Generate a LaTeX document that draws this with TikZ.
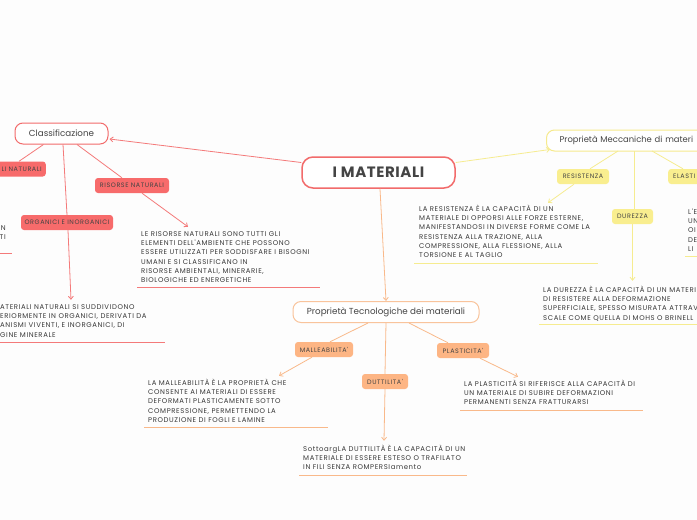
\documentclass[tikz,border=0pt]{standalone}
\usepackage{fontspec}
\setmainfont{Poppins}
\newfontfamily\bodyfam[LetterSpace=9]{Poppins}
\newfontfamily\rootfam[LetterSpace=4]{Poppins}
\usetikzlibrary{arrows.meta}
\definecolor{bgc}{HTML}{FDFDFD}
\definecolor{redb}{HTML}{F26B6B}
\definecolor{redf}{HTML}{F76B6B}
\definecolor{redl}{HTML}{F47A7A}
\definecolor{orb}{HTML}{F9C49C}
\definecolor{orf}{HTML}{FDB584}
\definecolor{orl}{HTML}{F9B98A}
\definecolor{yeb}{HTML}{F6EA8E}
\definecolor{yef}{HTML}{F9EE8F}
\definecolor{yel}{HTML}{F6EC90}
\definecolor{titc}{HTML}{444444}
\definecolor{txtc}{HTML}{383838}
\newcommand{\bodyf}{\bodyfam\fontsize{6.9}{9.2}\selectfont}
\newcommand{\fl}{\rule{0pt}{6.4pt}}
\begin{document}
\begin{tikzpicture}[x=1pt,y=-1pt,
  rootbox/.style={draw=redb,line width=1.5pt,rounded corners=11pt,fill=white,
    minimum width=153pt,minimum height=31pt,inner sep=0pt,
    font=\rootfam\bfseries\fontsize{15}{18}\selectfont,text=titc},
  topic/.style={draw=#1,line width=1pt,rounded corners=8pt,fill=white,
    minimum height=21pt,inner sep=0pt,font=\fontsize{8.75}{11}\selectfont,text=titc},
  sub/.style={fill=#1,rounded corners=3pt,minimum height=15pt,inner sep=0pt,
    font=\bodyfam\fontsize{6.4}{7}\selectfont,text=titc},
  tblock/.style={anchor=north west,inner sep=0pt,align=left,font=\bodyf,text=txtc},
  conn/.style={draw=#1,line width=0.8pt},
  arr/.style={draw=#1,line width=0.8pt,-{Straight Barb[length=3pt,width=5pt]}},
  uline/.style={draw=#1,line width=0.8pt}
]
\useasboundingbox (0,0) rectangle (697,520);
\fill[bgc] (0,0) rectangle (697,520);
\clip (0,0) rectangle (697,520);

% main nodes
\node[rootbox] (root) at (378.5,172.5) {I MATERIALI};
\node[topic=redb,minimum width=93pt] (cls) at (61.5,133.5) {Classificazione};
\node[topic=orb,minimum width=186pt] (tec) at (386,312) {Proprietà Tecnologiche dei materiali};
\node[topic=yeb,anchor=west,text width=200pt,align=left,inner xsep=13pt,font=\fontsize{8.4}{11}\selectfont] (mec) at (546,140.5) {Proprietà Meccaniche di materi};

% sub boxes
\node[sub=redf,anchor=east,text width=70pt,align=right,inner xsep=4pt] (nat) at (46,169) {LI NATURALI};
\node[sub=redf,minimum width=74pt] (ris) at (132,185.5) {RISORSE NATURALI};
\node[sub=redf,minimum width=92pt] (org) at (67,222.5) {ORGANICI E INORGANICI};
\node[sub=orf,minimum width=58pt] (mal) at (324,349.5) {MALLEABILITA'};
\node[sub=orf,minimum width=46pt] (dut) at (385,381.5) {DUTTILITA'};
\node[sub=orf,minimum width=52pt] (pla) at (463,350.5) {PLASTICITA'};
\node[sub=yef,minimum width=52pt] (res) at (583,176.5) {RESISTENZA};
\node[sub=yef,minimum width=41pt] (dur) at (632.5,216.5) {DUREZZA};
\node[sub=yef,anchor=west,text width=40pt,align=left,inner xsep=5pt] (ela) at (668,176.5) {ELASTI};

% text blocks
\node[tblock] (rist) at (141,229.8) {\fl LE RISORSE NATURALI SONO TUTTI GLI\\ELEMENTI DELL'AMBIENTE CHE POSSONO\\ESSERE UTILIZZATI PER SODDISFARE I BISOGNI\\UMANI E SI CLASSIFICANO IN\\RISORSE AMBIENTALI, MINERARIE,\\BIOLOGICHE ED ENERGETICHE};
\node[tblock] (natt) at (0,302.8) {\fl ATERIALI NATURALI SI SUDDIVIDONO\\ERIORMENTE IN ORGANICI, DERIVATI DA\\ANISMI VIVENTI, E INORGANICI, DI\\GINE MINERALE};
\node[tblock,anchor=north east,align=right] (lft) at (6,223.8) {\fl N\\TI};
\node[tblock] (malt) at (148,378.8) {\fl LA MALLEABILITÀ È LA PROPRIETÀ CHE\\CONSENTE AI MATERIALI DI ESSERE\\DEFORMATI PLASTICAMENTE SOTTO\\COMPRESSIONE, PERMETTENDO LA\\PRODUZIONE DI FOGLI E LAMINE};
\node[tblock] (dutt) at (303,444.8) {\fl SottoargLA DUTTILITÀ È LA CAPACITÀ DI UN\\MATERIALE DI ESSERE ESTESO O TRAFILATO\\IN FILI SENZA ROMPERSIamento};
\node[tblock] (plat) at (464,379.8) {\fl LA PLASTICITÀ SI RIFERISCE ALLA CAPACITÀ DI\\UN MATERIALE DI SUBIRE DEFORMAZIONI\\PERMANENTI SENZA FRATTURARSI};
\node[tblock] (rest) at (419,204.8) {\fl LA RESISTENZA È LA CAPACITÀ DI UN\\MATERIALE DI OPPORSI ALLE FORZE ESTERNE,\\MANIFESTANDOSI IN DIVERSE FORME COME LA\\RESISTENZA ALLA TRAZIONE, ALLA\\COMPRESSIONE, ALLA FLESSIONE, ALLA\\TORSIONE E AL TAGLIO};
\node[tblock] (durt) at (543,285.8) {\fl LA DUREZZA È LA CAPACITÀ DI UN MATERI\\DI RESISTERE ALLA DEFORMAZIONE\\SUPERFICIALE, SPESSO MISURATA ATTRAV\\SCALE COME QUELLA DI MOHS O BRINELL};
\node[tblock] (elat) at (688,207.8) {\fl L'E\\UN\\OI\\DE\\LI};

% underlines
\draw[uline=redl] (137,287) -- (320,287);
\draw[uline=redl] (0,342) -- (165,342);
\draw[uline=redl] (0,253.5) -- (12,253.5);
\draw[uline=orl] (144,427) -- (328,427);
\draw[uline=orl] (299,475) -- (467,475);
\draw[uline=orl] (460,410) -- (643,410);
\draw[uline=yel] (414,263) -- (598,263);
\draw[uline=yel] (539,324) -- (697,324);
\draw[uline=yel] (685,256) -- (697,256);

% connectors
\draw[arr=redl] ([shift={(0,-10)}]root.west) -- ([shift={(1,5.5)}]cls.east);
\draw[arr=yel] ([shift={(0,-10)}]root.east) -- ([shift={(4,9)}]mec.west);
\draw[arr=orl] ([shift={(1.5,0)}]root.south) -- (tec.north);

\draw[conn=redl] ([shift={(-18,0)}]cls.south) -- ([shift={(-27,0)}]nat.north east);
\draw[conn=redl] ([shift={(1.5,0)}]cls.south) -- (org.north);
\draw[arr=redl] ([shift={(1,0)}]org.south) -- ([shift={(71,-3)}]natt.north west);
\draw[conn=redl] ([shift={(15.5,0)}]cls.south) -- ([shift={(-10,0)}]ris.north);
\draw[arr=redl] ([shift={(10,0)}]ris.south) -- ([shift={(47,-3)}]rist.north west);

\draw[conn=orl] ([shift={(-18,0)}]tec.south) -- ([shift={(6,0)}]mal.north);
\draw[arr=orl] ([shift={(-12,0)}]mal.south) -- ([shift={(131,-3)}]malt.north west);
\draw[conn=orl] (tec.south) -- (dut.north);
\draw[arr=orl] (dut.south) -- ([shift={(81,-4)}]dutt.north west);
\draw[conn=orl] ([shift={(23,0)}]tec.south) -- ([shift={(-15,0)}]pla.north);
\draw[arr=orl] ([shift={(17,0)}]pla.south) -- ([shift={(54,-3)}]plat.north west);

\draw[conn=yel] ([shift={(72,10.5)}]mec.west) -- ([shift={(7,0)}]res.north);
\draw[arr=yel] ([shift={(-9,0)}]res.south) -- ([shift={(129,-2)}]rest.north west);
\draw[conn=yel] ([shift={(88,10.5)}]mec.west) -- ([shift={(1.5,0)}]dur.north);
\draw[arr=yel] (dur.south) -- ([shift={(89.5,-5)}]durt.north west);
\draw[conn=yel] ([shift={(106,10.5)}]mec.west) -- ([shift={(15,0)}]ela.north west);
\end{tikzpicture}
\end{document}
